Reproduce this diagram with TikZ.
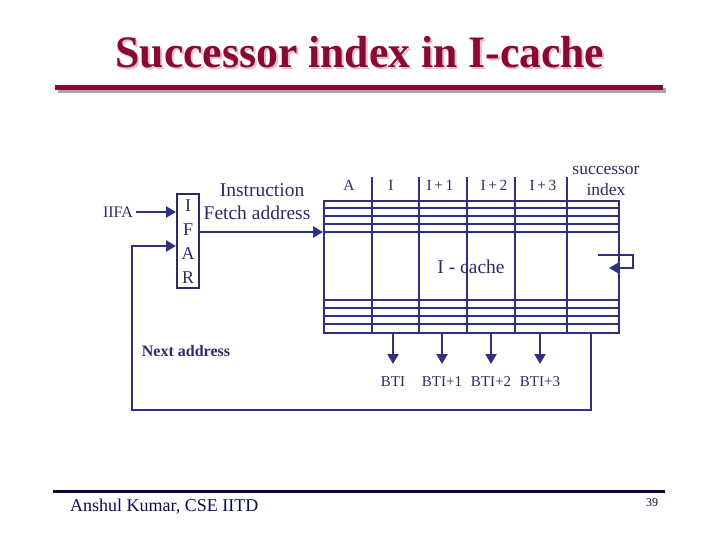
\documentclass[tikz,border=0pt]{standalone}
\usepackage{fontspec}
\setmainfont{Liberation Serif}
\usepackage{xcolor}
\usetikzlibrary{positioning,arrows.meta,calc}
\definecolor{navy}{RGB}{48,48,128}
\definecolor{inktext}{RGB}{44,44,100}
\definecolor{titlered}{RGB}{138,8,52}
\definecolor{titleshade}{RGB}{228,190,200}
\definecolor{footnavy}{RGB}{10,10,70}
\tikzset{
  wire/.style={navy,line width=2.3pt},
  flow/.style={wire,-{Triangle[length=10pt,width=11pt]}},
  lbl/.style={inktext,inner sep=0pt},
}
\newcommand{\fs}[2]{\fontsize{#1}{#2}\selectfont}
\newcommand{\shadetitle}[1]{\rlap{\hspace{2pt}\raisebox{-2pt}{\color{titleshade}#1}}#1}

\begin{document}
\begin{tikzpicture}[x=1pt,y=-1pt]
  \useasboundingbox (0,0) rectangle (720,540);
  % title with its shadow and rule
  \node[titlered,font=\fs{45}{50}\bfseries] (title) at (360,53){\scalebox{0.97}[1]{\shadetitle{Successor index in I-cache}}};
  \draw[gray!70,line width=5pt] (58,90.5) -- (666,90.5);
  \draw[titlered,line width=5pt] (55,87.5) -- (663,87.5);
  % IFAR register
  \node[draw=navy,line width=2.3pt,lbl,align=center,font=\fs{18}{24},minimum width=22,minimum height=94,anchor=north west] (ifar) at (176,193){I\\F\\A\\R};
  \node[lbl,font=\fs{16}{18}] (iifa) at (118,212){IIFA};
  \node[lbl,font=\fs{19.5}{23},align=center] (fetch) at (257,202){\hspace*{10pt}Instruction\\Fetch address};
  % I-cache array
  \node[draw=navy,line width=2.3pt,minimum width=295,minimum height=132,anchor=north west,inner sep=0pt] (cache) at (323,200){};
  \foreach \y in {208,216,224,232,300,308,316,324}
    \draw[wire] (cache.west |- 0,\y) -- (cache.east |- 0,\y);
  \foreach \x in {372,419,467,515,567}
    \draw[wire] (\x,177) -- (cache.south -| \x,0);
  \foreach \x/\t [count=\i] in {349/A, 391/I, 440/{I\,+\,1}, 494/{I\,+\,2}, 543/{I\,+\,3}}
    \node[lbl,font=\fs{15.5}{17}] (col\i) at (\x,185){\t};
  \node[lbl,font=\fs{17.5}{21},align=center] (succ) at (606,181){successor\\index};
  \node[lbl,font=\fs{19.5}{20}] (cname) at (471,267){I - cache};
  % fetch address into the cache
  \coordinate (fa) at (ifar.east |- 0,232);
  \draw[flow] (fa) -- (fa -| cache.west);
  \draw[flow,shorten <=3pt] (iifa) -- (iifa -| ifar.west);
  % successor index loop
  \coordinate (s1) at (598,255);
  \coordinate (s2) at (633,268);
  \draw[flow] (s1) -| (s2) -- (609,268);
  % branch target outputs
  \foreach \x/\t [count=\i] in {393/BTI, 442/BTI+1, 491/BTI+2, 540/BTI+3}{
    \node[lbl,font=\fs{15}{16}] (bti\i) at (\x,382){\t};
    \draw[flow] (cache.south -| \x,0) -- (\x,364);
  }
  % next address feedback
  \node[lbl,font=\fs{16}{18}\bfseries] (next) at (186,351){Next address};
  \coordinate (nb) at (591,410);
  \draw[flow] (cache.south -| nb) -- (nb) -| (132,246) -- (ifar.west |- 0,246);
  % footer
  \draw[footnavy,line width=3pt] (53,491) -- (665,491);
  \node[footnavy,inner sep=0pt,font=\fs{18}{20},anchor=west] (author) at (70,507){Anshul Kumar, CSE IITD};
  \node[footnavy,inner sep=0pt,font=\fs{12}{14}] (page) at (652,503){39};
\end{tikzpicture}
\end{document}
